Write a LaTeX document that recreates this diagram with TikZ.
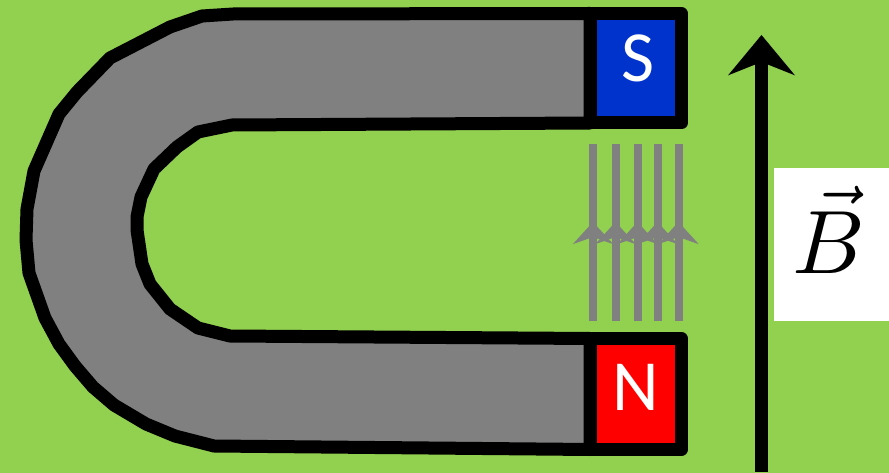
\documentclass[tikz,border=0pt]{standalone}
\usepackage{fontspec}
\setsansfont{Carlito}
\usetikzlibrary{arrows.meta}
\definecolor{bggreen}{HTML}{92D050}
\definecolor{poleblue}{HTML}{0033CC}
\tikzset{
	magnetline/.style={line width=13pt,draw=black,line join=round},
	poletext/.style={text=white,font=\sffamily\fontsize{72}{72}\selectfont},
	fieldline/.style={draw=gray,line width=8pt},
	fieldtip/.style={-{Stealth[length=22pt,width=40pt,inset=7pt]},draw=gray,fill=gray,line width=8pt}
}
\begin{document}
\begin{tikzpicture}[x=1pt,y=-1pt,line join=round]
	\fill[bggreen] (0,0) rectangle (889,473);
	\useasboundingbox (0,0) rectangle (889,473);
	% body of the horseshoe
	\draw[magnetline,fill=gray] (590,13.5)--(233,14)--(202,16)--(170,27)--(110,58)--(77,92)--(59,114)--(34,171)--(27,209)--(26,240)
		--(29,273)--(45,318)--(59,344)--(75,366)--(93,387)--(114,405)--(146,424)--(175,436)--(214,446)--(590,449.5)
		--(590,338.5)--(230,336)--(198,328)--(170,309)--(150,284)--(142,264)--(137,230)
		--(137,217)--(141,197)--(154,169)--(177,147)--(198,132)--(232,125)--(590,123)--cycle;
	% the two poles
	\draw[magnetline,fill=poleblue] (590,13.5) rectangle (681.5,123);
	\draw[magnetline,fill=red] (590,338.5) rectangle (681.5,449.5);
	\node[poletext] (south) at (638,58) {S};
	\node[poletext] (north) at (636,387) {N};
	% field lines between the poles
	\foreach \x in {593,615.5,637.5,657.5,678.5}{
		\draw[fieldline] (\x,321)--(\x,144);
		\draw[fieldtip] (\x,321)--(\x,222);
	}
	% field direction and its label
	\coordinate (bstart) at (761.5,472);
	\coordinate (bend) at (761.5,35);
	\draw[line width=13pt,-{Stealth[length=40pt,width=66pt,inset=13pt]}] (bstart)--(bend);
	\fill[white] (774,168) rectangle (889,321);
	\node[scale=9] (bvec) at (829,230) {$\vec{B}$};
\end{tikzpicture}
\end{document}
